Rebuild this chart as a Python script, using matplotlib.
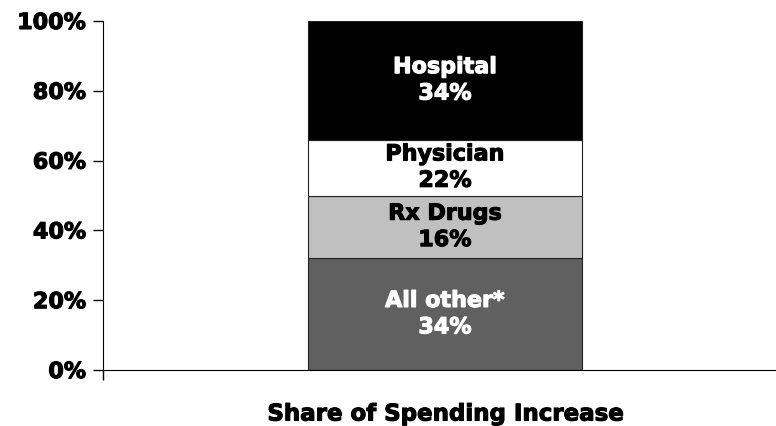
import numpy as np
import matplotlib.pyplot as plt
import matplotlib.patheffects as pe

# segment heights (as drawn) and their printed labels
categories = ['All other*', 'Rx Drugs', 'Physician', 'Hospital']
heights = np.array([32, 18, 16, 34])
labels = ['34%', '16%', '22%', '34%']
colors = ['#606060', '#C0C0C0', '#FFFFFF', '#000000']
text_colors = ['white', 'black', 'black', 'white']

plt.rcParams['font.family'] = ['DejaVu Sans']


def heavy(color):
    # thicken bold glyphs a bit to look like a black-weight face
    return [pe.withStroke(linewidth=0.8, foreground=color)]


fig = plt.figure(figsize=(7.76, 4.27), dpi=100)
ax = fig.add_axes([103 / 776, 1 - 371 / 427, 1 - 103 / 776, 349 / 427])

bottom = 0
for cat, h, lab, c, tc in zip(categories, heights, labels, colors, text_colors):
    ax.bar(0, h, width=1, bottom=bottom, color=c, edgecolor='#222222', linewidth=0.8)
    ax.text(0, bottom + h / 2, f'{cat}\n{lab}', ha='center', va='center',
            color=tc, fontsize=16, fontweight='bold', linespacing=1.4,
            path_effects=heavy(tc))
    bottom += h

xmin, xmax = -1.248, 1.208
ax.set_xlim(xmin, xmax)
ax.set_ylim(0, 100)
ax.set_yticks(np.arange(0, 101, 20))
ax.set_yticklabels([f'{v}%' for v in range(0, 101, 20)], fontsize=16, fontweight='bold')
for t in ax.get_yticklabels():
    t.set_path_effects(heavy('black'))
ax.set_xticks([xmin])
ax.set_xticklabels([''])
ax.tick_params(axis='both', length=7, width=1, direction='out', pad=5)
ax.spines['top'].set_visible(False)
ax.spines['right'].set_visible(False)
ax.set_xlabel('Share of Spending Increase', fontsize=16.5, fontweight='bold', va='center',
              path_effects=heavy('black'))
ax.xaxis.set_label_coords((445 - 103) / 673, -(415 - 371) / 349)

fig.savefig('out.png', dpi=100)
